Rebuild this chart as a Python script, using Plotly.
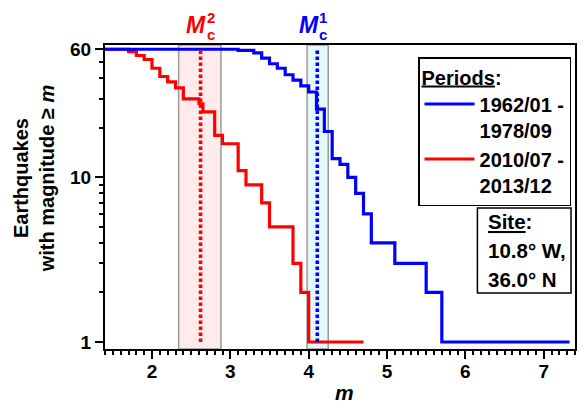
import plotly.graph_objects as go

# ---------------- data ----------------
period1_label = "1962/01 -<br>1978/09"
period2_label = "2010/07 -<br>2013/12"

blue_m = [1.4, 3.1, 3.3, 3.4, 3.5, 3.6, 3.7, 3.8, 3.9, 4.0, 4.1, 4.2, 4.3, 4.4, 4.5,
          4.6, 4.7, 4.8, 5.1, 5.5, 5.7, 7.33]
blue_n = [60, 59, 57, 53, 49, 46, 42, 39, 36, 33, 26, 19, 13, 12, 10,
          8, 6, 4, 3, 2, 1, 1]

red_m = [1.4, 1.7, 1.8, 1.9, 2.0, 2.1, 2.2, 2.3, 2.4, 2.6, 2.65, 2.8, 2.9, 3.1, 3.2,
         3.4, 3.5, 3.8, 3.9, 4.0, 4.7]
red_n = [60, 58, 55, 52, 46, 41, 38, 35, 30, 28, 25, 18, 16, 11, 9,
         7, 5, 3, 2, 1, 1]

mc1 = 4.11
mc1_band = [3.98, 4.25]
mc2 = 2.62
mc2_band = [2.34, 2.88]
n_total = 60

x_ticks = [2, 3, 4, 5, 6, 7]
y_ticks = [1, 10, 60]
y_minor = [2, 3, 4, 5, 6, 7, 8, 9, 20, 30, 40, 50]

site_lines = ["<u>Site</u>:", "10.8° W,", "36.0° N"]

# ---------------- style ----------------
FONT = "Liberation Sans, Arial, sans-serif"
BLUE = "#0000ff"
RED = "#ff0000"

W, H = 588, 409
L, R, T, B = 105, 11, 45, 60
PW, PH = W - L - R, H - T - B


def px2paper_x(px):
    return (px - L) / PW


def px2paper_y(py):
    return (H - B - py) / PH


fig = go.Figure()

# bands
for band, fill in [(mc2_band, "rgba(253,228,228,0.75)"), (mc1_band, "rgba(222,248,252,0.85)")]:
    fig.add_shape(type="rect", xref="x", yref="paper", x0=band[0], x1=band[1], y0=0, y1=1,
                  fillcolor=fill, line=dict(color="#9a9a9a", width=1.5), layer="below")

fig.add_trace(go.Scatter(x=red_m, y=red_n, mode="lines", line_shape="hv",
                         line=dict(color=RED, width=3.2), name=period2_label, legendrank=2))
fig.add_trace(go.Scatter(x=blue_m, y=blue_n, mode="lines", line_shape="hv",
                         line=dict(color=BLUE, width=3.2), name=period1_label, legendrank=1))

fig.add_trace(go.Scatter(x=[mc2, mc2], y=[1, n_total], mode="lines",
                         line=dict(color=RED, width=3.6, dash="3.4px,2.6px"), showlegend=False))
fig.add_trace(go.Scatter(x=[mc1, mc1], y=[1, n_total], mode="lines",
                         line=dict(color=BLUE, width=3.6, dash="3.4px,2.6px"), showlegend=False))

annotations = []
# Mc labels
for mc, col, sup, m_shift, s_shift in [(mc2, RED, "2", -5, 10), (mc1, BLUE, "1", -8, 6)]:
    annotations.append(dict(x=mc, xref="x", y=px2paper_y(25), yref="paper", xshift=m_shift,
                            text="<b><i>M</i></b>", showarrow=False, xanchor="center", yanchor="middle",
                            font=dict(size=23, color=col, family=FONT)))
    annotations.append(dict(x=mc, xref="x", y=px2paper_y(18), yref="paper", xshift=s_shift,
                            text="<b>%s</b>" % sup, showarrow=False, xanchor="center", yanchor="middle",
                            font=dict(size=15, color=col, family=FONT)))
    annotations.append(dict(x=mc, xref="x", y=px2paper_y(35), yref="paper", xshift=s_shift,
                            text="<b>c</b>", showarrow=False, xanchor="center", yanchor="middle",
                            font=dict(size=15, color=col, family=FONT)))

# y title
annotations.append(dict(x=px2paper_x(34), xref="paper", y=px2paper_y(178), yref="paper",
                        text="<b>Earthquakes</b><br><b>with magnitude ≥ <i>m</i></b>", textangle=-90,
                        showarrow=False, xanchor="center", yanchor="middle",
                        font=dict(size=20, color="black", family=FONT)))
# x title
annotations.append(dict(x=px2paper_x(346), xref="paper", y=px2paper_y(392), yref="paper",
                        text="<b><i>m</i></b>", showarrow=False, xanchor="center", yanchor="middle",
                        font=dict(size=21, color="black", family=FONT)))

# site box
site_y = [221, 250, 279]
for txt, yy in zip(site_lines, site_y):
    annotations.append(dict(x=px2paper_x(488), xref="paper", y=px2paper_y(yy), yref="paper",
                            text="<b>%s</b>" % txt, showarrow=False, xanchor="left", yanchor="middle",
                            font=dict(size=20.5, color="black", family=FONT)))
fig.add_shape(type="rect", xref="paper", yref="paper", x0=px2paper_x(479), x1=px2paper_x(573),
              y0=px2paper_y(293), y1=px2paper_y(208), line=dict(color="black", width=1.5),
              fillcolor="white", layer="above")

fig.update_layout(
    width=W, height=H, margin=dict(l=L, r=R, t=T, b=B),
    paper_bgcolor="white", plot_bgcolor="white",
    font=dict(family=FONT, size=19, color="black"),
    annotations=annotations,
    showlegend=True,
    legend=dict(x=px2paper_x(573), xanchor="right", y=px2paper_y(57), yanchor="top",
                bordercolor="black", borderwidth=1.5, bgcolor="white",
                font=dict(size=20, family=FONT, color="black", weight="bold"),
                title=dict(text="<b><u>Periods</u>:</b>", font=dict(size=20, family=FONT, color="black")),
                valign="top", itemwidth=50, traceorder="normal"),
)

fig.update_xaxes(range=[1.4, 7.4], tickvals=x_ticks, ticks="outside", ticklen=8, tickwidth=2,
                 tickcolor="black", showline=True, linecolor="black", linewidth=2, mirror=True,
                 showgrid=False, zeroline=False, tickfont=dict(size=19, weight="bold"),
                 ticklabelstandoff=-4,
                 minor=dict(dtick=0.1, tick0=0, ticks="outside", ticklen=4, tickwidth=1.5, tickcolor="black",
                            showgrid=False))
fig.update_yaxes(type="log", range=[-0.0424, 1.804], tickvals=y_ticks, ticktext=[str(v) for v in y_ticks],
                 ticks="outside", ticklen=8, tickwidth=2, tickcolor="black",
                 showline=True, linecolor="black", linewidth=2, mirror=True,
                 showgrid=False, zeroline=False, tickfont=dict(size=19, weight="bold"),
                 minor=dict(tickmode="array", tickvals=y_minor, ticks="outside", ticklen=4, tickwidth=1.5,
                            tickcolor="black", showgrid=False))

fig.write_html("out.html")
